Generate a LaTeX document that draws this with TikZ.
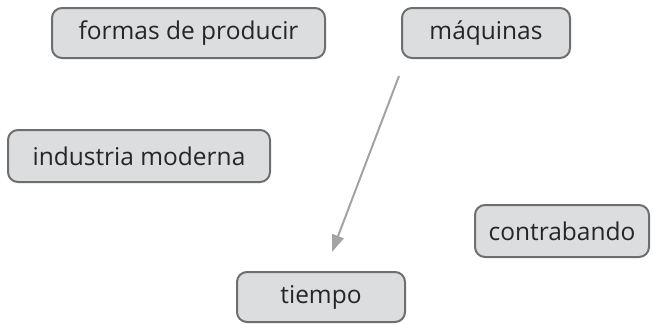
\documentclass[tikz,border=0pt]{standalone}
\usepackage{fontspec}
\setmainfont{Open Sans}
\usetikzlibrary{arrows.meta}
\definecolor{boxfill}{HTML}{DCDDDF}
\definecolor{boxdraw}{HTML}{6D6E70}
\definecolor{arrowcol}{HTML}{A3A3A5}
\begin{document}
\begin{tikzpicture}[x=1pt,y=-1pt,
  concept/.style={draw=boxdraw,fill=boxfill,line width=2pt,rounded corners=10pt,
    minimum height=50pt,inner sep=0pt,font=\fontsize{24.5}{28}\selectfont,text=black!85},
  link/.style={draw=arrowcol,line width=2pt,-{Triangle[width=12pt,length=17pt]}}]
\useasboundingbox (0,0) rectangle (653,324);
\node[concept,minimum width=273pt] (formas) at (188.5,33) {formas de producir};
\node[concept,minimum width=168pt] (maquinas) at (486,33) {máquinas};
\node[concept,minimum width=262pt,minimum height=52pt] (industria) at (139,156) {industria moderna};
\node[concept,minimum width=174pt,minimum height=52pt] (contrabando) at (562,231) {contrabando};
\node[concept,minimum width=168pt] (tiempo) at (321,297) {tiempo};
\coordinate (a) at ([shift={(-2,17)}]maquinas.south west);
\coordinate (b) at ([shift={(96,-19)}]tiempo.north west);
\draw[link] (a) -- (b);
\end{tikzpicture}
\end{document}
